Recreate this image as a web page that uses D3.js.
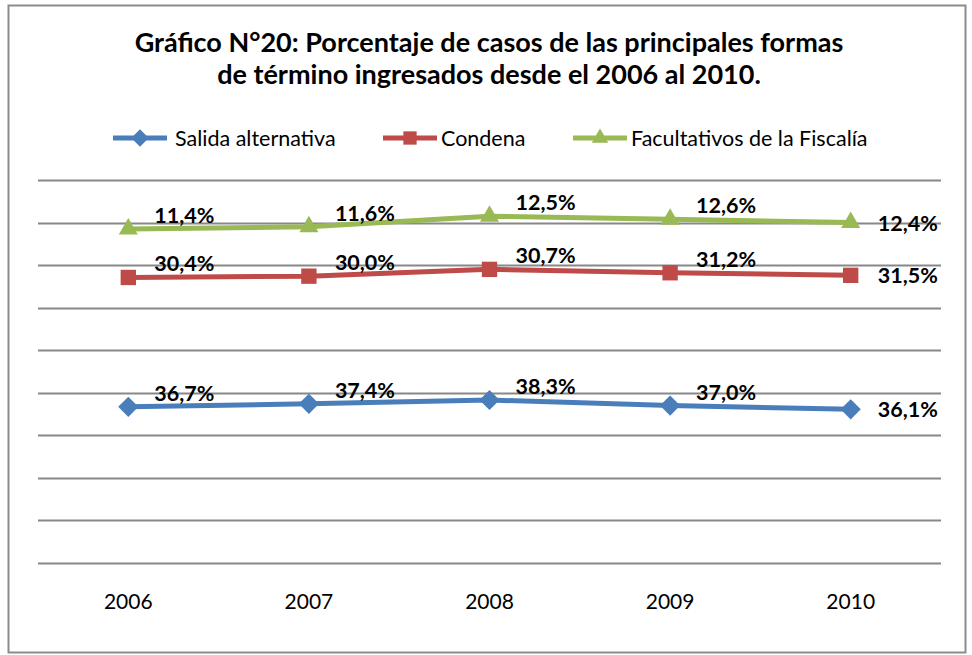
<!DOCTYPE html>
<html>
<head>
<meta charset="utf-8">
<script src="https://cdn.jsdelivr.net/npm/d3@7"></script>
<style>
  body { margin: 0; background: #fff; }
  svg { display: block; font-family: Lato, "Open Sans", sans-serif; }
</style>
</head>
<body>
<main></main>
<script>
// Data (stacked line chart, values in %)
const years = ['2006', '2007', '2008', '2009', '2010']
const salida = [36.7, 37.4, 38.3, 37.0, 36.1]
const condena = [30.4, 30.0, 30.7, 31.2, 31.5]
const facultativos = [11.4, 11.6, 12.5, 12.6, 12.4]
const seriesNames = ['Salida alternativa', 'Condena', 'Facultativos de la Fiscalía']
const colors = ['#4a7ebb', '#be4b48', '#98b954']
const yTicks = [0, 10, 20, 30, 40, 50, 60, 70, 80, 90]

let width = 972
let height = 655
let margin = {top: 180, right: 31, bottom: 92, left: 38}

let svg = d3.select('main')
  .append('svg')
  .attr('width', width)
  .attr('height', height)

// chart frame
svg.append('rect')
  .attr('x', 8.5).attr('y', 5.5)
  .attr('width', 957).attr('height', 647)
  .attr('fill', 'white')
  .attr('stroke', '#8c8c8c')
  .attr('stroke-width', 2)

// title
let title = svg.append('text')
  .attr('text-anchor', 'middle')
  .attr('font-weight', 'bold')
  .attr('font-size', 27)
  .attr('fill', '#000')
title.append('tspan').attr('x', 489).attr('y', 52)
  .text('Gráfico N°20: Porcentaje de casos de las principales formas')
title.append('tspan').attr('x', 489).attr('y', 84)
  .text('de término ingresados desde el 2006 al 2010.')

let x = d3.scaleBand()
  .domain(years)
  .range([margin.left, width - margin.right])

let y = d3.scaleLinear()
  .domain([0, 90])
  .range([height - margin.bottom, margin.top])

// gridlines
svg.append('g')
  .selectAll('line')
  .data(yTicks)
  .enter()
  .append('line')
  .attr('x1', margin.left)
  .attr('x2', width - margin.right)
  .attr('y1', d => Math.round(y(d)) + 0.5)
  .attr('y2', d => Math.round(y(d)) + 0.5)
  .attr('stroke', '#888')
  .attr('stroke-width', 2)

// x axis labels
svg.append('g')
  .attr('transform', `translate(0, ${height - margin.bottom})`)
  .call(d3.axisBottom(x).tickSize(0).tickPadding(31))
  .call(g => g.select('.domain').remove())
  .selectAll('text')
  .attr('font-family', 'Lato, "Open Sans", sans-serif')
  .attr('font-size', 21)
  .attr('fill', '#000')

// stack the series
let raw = [salida, condena, facultativos]
let stacked = []
let base = years.map(() => 0)
raw.forEach((vals, i) => {
  let pts = vals.map((v, j) => {
    base[j] += v
    return {year: years[j], value: v, top: base[j], idx: j}
  })
  stacked.push(pts)
})

let cx = d => x(d.year) + x.bandwidth() / 2
let line = d3.line().x(cx).y(d => y(d.top))

let symbolTypes = [d3.symbolDiamond2, d3.symbolSquare2, d3.symbolTriangle2]
let symbolSizes = [260, 300, 260]

let plot = svg.append('g')
stacked.forEach((pts, i) => {
  plot.append('path')
    .datum(pts)
    .attr('d', line)
    .attr('fill', 'none')
    .attr('stroke', colors[i])
    .attr('stroke-width', 5)
    .attr('stroke-linejoin', 'round')

  plot.selectAll('.m' + i)
    .data(pts)
    .enter()
    .append('path')
    .attr('class', 'm' + i)
    .attr('transform', d => `translate(${cx(d)}, ${y(d.top)})`)
    .attr('d', d3.symbol().type(symbolTypes[i]).size(symbolSizes[i]))
    .attr('fill', colors[i])

  plot.selectAll('.l' + i)
    .data(pts)
    .enter()
    .append('text')
    .attr('class', 'l' + i)
    .attr('x', d => cx(d) + (d.idx === years.length - 1 ? 27 : 26))
    .attr('y', d => y(d.top) + (d.idx === years.length - 1 ? 8 : -6))
    .attr('font-size', 21.5)
    .attr('font-weight', 'bold')
    .attr('fill', '#000')
    .text(d => d.value.toFixed(1).replace('.', ',') + '%')
})

// legend
let legendX = [113, 383, 573]
let legend = svg.append('g')
seriesNames.forEach((name, i) => {
  let g = legend.append('g').attr('transform', `translate(${legendX[i]}, 138)`)
  g.append('line')
    .attr('x1', 0).attr('x2', 54)
    .attr('stroke', colors[i])
    .attr('stroke-width', 5)
  g.append('path')
    .attr('transform', 'translate(27, 0)')
    .attr('d', d3.symbol().type(symbolTypes[i]).size(symbolSizes[i] * 0.75))
    .attr('fill', colors[i])
  g.append('text')
    .attr('x', i === 0 ? 62 : 58).attr('y', 8)
    .attr('font-size', 21.5)
    .attr('fill', '#000')
    .text(name)
})
</script>
</body>
</html>
